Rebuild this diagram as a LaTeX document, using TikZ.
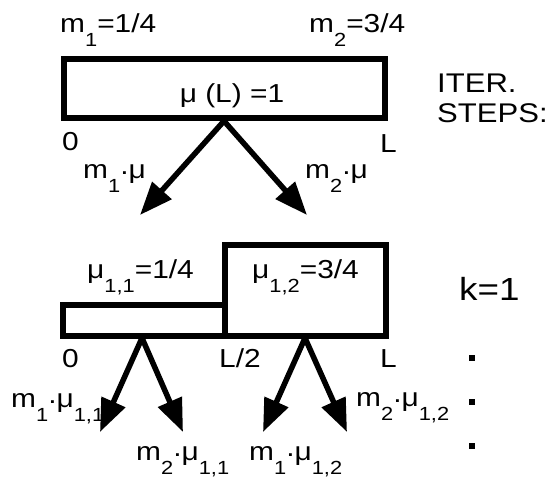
\documentclass[tikz,border=0pt]{standalone}
\usepackage{fontspec}
\setmainfont{Liberation Sans}[FakeStretch=1.15]
\usetikzlibrary{arrows.meta}
\newcommand\sbx[1]{\raisebox{-0.55em}{\fontsize{19}{19}\selectfont #1}}
\newcommand\pdot{\raisebox{0.15em}{.}}
\begin{document}
\begin{tikzpicture}[x=1pt,y=-1pt,
  lbl/.style={inner sep=0pt,anchor=base west,font=\fontsize{26}{30}\selectfont},
  biglbl/.style={inner sep=0pt,anchor=base west,font=\fontsize{27}{31}\selectfont},
  bar/.style={draw=black,line width=6pt,line join=miter},
  arr/.style={line width=5.5pt,-{Triangle[length=33pt,width=25pt]}},
  dotsq/.style={fill=black,inner sep=0pt,minimum size=5.5pt,draw=none}]
\useasboundingbox (0,0) rectangle (548,480);
% top level
\node[lbl] (m1) at (60,32) {m\sbx{1}=1/4};
\node[lbl] (m2) at (309,32) {m\sbx{2}=3/4};
\node[bar,minimum width=321pt,minimum height=59pt,inner sep=0pt] (top) at (224.5,88.5) {};
\node[lbl,anchor=base] (muL) at (232,102) {μ (L) =1};
\node[lbl] (z0) at (62,150) {0};
\node[lbl] (zL) at (380,152) {L};
\node[biglbl] (iter) at (437,92) {ITER.};
\node[biglbl] (steps) at (437,122) {STEPS:};
\coordinate (a0) at (224,121);
\coordinate (t1) at (140,215);
\coordinate (t2) at (307,215);
\draw[arr] (a0) -- (t1);
\draw[arr] (a0) -- (t2);
\node[lbl] (m1mu) at (83,178) {m\sbx{1}\pdot μ};
\node[lbl] (m2mu) at (305,178) {m\sbx{2}\pdot μ};
% second level
\node[bar,minimum width=162pt,minimum height=31pt,inner sep=0pt] (lo) at (144,320.5) {};
\node[bar,minimum width=161pt,minimum height=91pt,inner sep=0pt] (hi) at (305.5,290.5) {};
\node[lbl] (mu11) at (87,278) {μ\sbx{1,1}=1/4};
\node[lbl] (mu12) at (252,278) {μ\sbx{1,2}=3/4};
\node[inner sep=0pt,anchor=base west,font=\fontsize{32}{36}\selectfont] (k1) at (459,300) {k=1};
\node[lbl] (b0) at (62,367) {0};
\node[lbl] (bL2) at (219,367) {L/2};
\node[lbl] (bL) at (380,367) {L};
\coordinate (a1) at (142,338);
\coordinate (a2) at (305,338);
\coordinate (s1) at (100,432);
\coordinate (s2) at (183,432);
\coordinate (s3) at (263,432);
\coordinate (s4) at (347,432);
\draw[arr] (a1) -- (s1);
\draw[arr] (a1) -- (s2);
\draw[arr] (a2) -- (s3);
\draw[arr] (a2) -- (s4);
\node[lbl] (l1) at (11,407) {m\sbx{1}\pdot μ\sbx{1,1}};
\node[lbl] (l2) at (136,460) {m\sbx{2}\pdot μ\sbx{1,1}};
\node[lbl] (l3) at (249,460) {m\sbx{1}\pdot μ\sbx{1,2}};
\node[lbl] (l4) at (356,406) {m\sbx{2}\pdot μ\sbx{1,2}};
\node[dotsq] (d1) at (472,358) {};
\node[dotsq] (d2) at (472,402) {};
\node[dotsq] (d3) at (472,446) {};
\end{tikzpicture}
\end{document}
